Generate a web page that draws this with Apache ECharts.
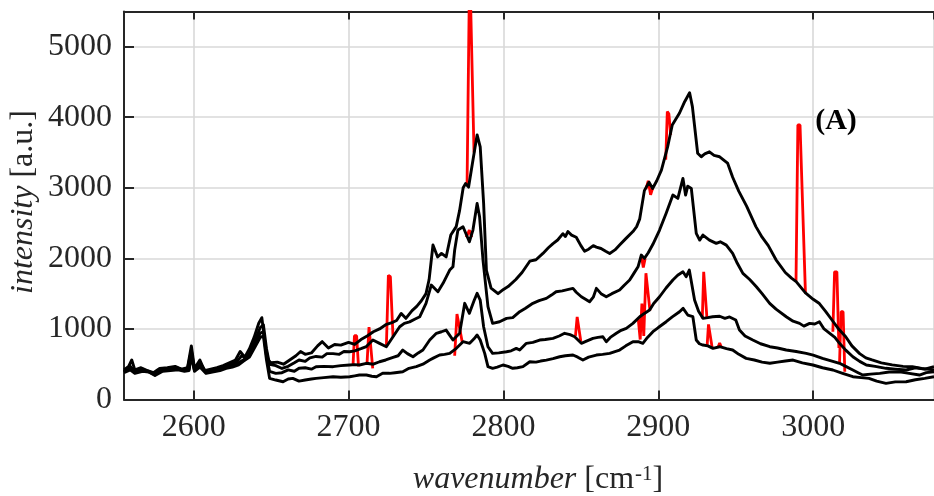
<!DOCTYPE html>
<html>
<head>
<meta charset="utf-8">
<script src="https://cdn.jsdelivr.net/npm/echarts@6/dist/echarts.min.js"></script>
<style>
  html, body { margin: 0; padding: 0; background: #fff; }
  #chart { width: 934px; height: 496px; }
</style>
</head>
<body>
<div id="chart"></div>
<script>
// wavenumber range shown and intensity range
const xRange = [2555, 3078];
const yRange = [0, 5500];

// despiked spectra (black), [wavenumber, intensity]
const curve1 = [
  [2555, 420], [2558, 470], [2560, 560], [2562, 420], [2566, 450], [2570, 410], [2574, 380], [2578, 440],
  [2583, 450], [2588, 470], [2592, 430], [2596, 450], [2598.5, 760], [2600.5, 440], [2604, 560], [2607, 410],
  [2611, 430], [2615, 450], [2619, 480], [2623, 520], [2627, 560], [2630, 680], [2633, 600], [2636, 720],
  [2639, 880], [2642, 1080], [2644, 1160], [2646, 800], [2648, 560], [2650, 520], [2654, 530], [2658, 500],
  [2662, 560], [2666, 620], [2669, 680], [2672, 640], [2676, 660], [2680, 760], [2683, 820], [2687, 730],
  [2691, 780], [2695, 770], [2700, 810], [2704, 780], [2708, 850], [2712, 900], [2716, 960], [2720, 1000],
  [2724, 1060], [2728, 1090], [2731, 1120], [2734, 1220], [2737, 1150], [2741, 1260], [2744, 1320], [2747, 1400],
  [2750, 1500], [2752, 1700], [2754.5, 2190], [2757.5, 2020], [2760, 2070], [2763, 2020], [2766, 2330], [2769.5, 2450],
  [2771.7, 2680], [2774, 3000], [2775.5, 3060], [2777.5, 3010], [2780.3, 3390], [2783, 3750], [2785, 3580], [2787.2, 2780],
  [2789, 1830], [2792, 1580], [2796.5, 1500], [2800, 1560], [2803, 1600], [2808, 1700], [2812, 1800], [2817, 1960],
  [2821, 1980], [2825.5, 2070], [2829, 2150], [2832, 2210], [2835, 2260], [2838.4, 2350], [2840, 2310], [2841.6, 2380],
  [2844, 2330], [2847, 2300], [2850, 2180], [2852.4, 2100], [2855, 2130], [2858, 2180], [2860, 2160], [2863, 2140],
  [2866, 2100], [2868.6, 2070], [2872, 2120], [2875, 2190], [2879, 2280], [2883.6, 2380], [2886, 2450], [2888, 2560],
  [2891, 2960], [2894, 3080], [2896.3, 2990], [2899, 3100], [2902, 3250], [2906, 3580], [2909, 3890], [2913.7, 4060],
  [2917, 4220], [2920.2, 4346], [2922, 4150], [2925.4, 3490], [2927.7, 3440], [2930, 3480], [2933, 3510], [2936, 3460],
  [2939.6, 3440], [2944.7, 3350], [2948, 3150], [2952, 2950], [2957, 2740], [2963, 2450], [2967, 2300], [2971, 2180],
  [2976, 1980], [2982, 1800], [2986, 1720], [2989, 1670], [2995, 1510], [3000, 1420], [3004, 1360], [3008, 1250],
  [3012, 1130], [3016, 1010], [3021, 890], [3025, 760], [3030, 650], [3034, 590], [3038, 560], [3044, 520],
  [3051, 490], [3058, 470], [3064, 465], [3070, 440], [3078, 420]
];
const curve2 = [
  [2555, 400], [2559, 470], [2562, 400], [2567, 430], [2571, 390], [2575, 350], [2579, 430], [2584, 440],
  [2589, 450], [2593, 420], [2596, 440], [2598.5, 700], [2600.5, 420], [2604, 520], [2608, 390], [2612, 420],
  [2616, 440], [2620, 470], [2624, 500], [2628, 540], [2631, 620], [2634, 580], [2637, 700], [2640, 860],
  [2643, 1020], [2645, 1060], [2647, 720], [2649, 500], [2653, 480], [2657, 440], [2661, 470], [2665, 520],
  [2668, 560], [2672, 540], [2675, 590], [2679, 610], [2683, 600], [2686, 650], [2690, 650], [2694, 640],
  [2697, 680], [2700.7, 677], [2704, 690], [2708, 720], [2711.5, 750], [2715.7, 843], [2720, 796], [2724.4, 748],
  [2728.7, 890], [2733, 1031], [2736, 1080], [2739.4, 1100], [2743, 1140], [2746, 1173], [2750, 1363], [2753.4, 1622],
  [2757.7, 1527], [2761, 1646], [2765.3, 1834], [2767.4, 1881], [2768.5, 2117], [2770.6, 2401], [2773.9, 2448], [2778, 2235],
  [2780.3, 2401], [2783, 2779], [2784.6, 2589], [2786.8, 1976], [2790, 1315], [2793, 1079], [2797.5, 1102], [2802, 1150],
  [2806, 1160], [2810.5, 1244], [2814, 1290], [2819, 1363], [2823, 1400], [2827.7, 1433], [2831, 1480], [2834, 1527],
  [2838, 1540], [2842, 1560], [2844.9, 1575], [2847, 1520], [2850.3, 1456], [2853, 1420], [2855.6, 1385], [2858, 1450],
  [2860, 1575], [2863, 1500], [2866.4, 1456], [2870, 1500], [2875, 1551], [2878, 1620], [2881.5, 1693], [2884, 1780],
  [2886.9, 1881], [2889, 2047], [2891, 2000], [2893.5, 2080], [2896.5, 2200], [2900.8, 2401], [2905, 2637], [2909.4, 2897],
  [2912.6, 2850], [2915.9, 3133], [2917.6, 2897], [2919, 3024], [2921.3, 2991], [2924.5, 2354], [2926.7, 2259], [2928.8, 2330],
  [2933, 2259], [2937.4, 2212], [2940, 2235], [2943.9, 2188], [2948, 2071], [2951, 1930], [2954.6, 1787], [2959, 1700],
  [2963.3, 1598], [2967, 1500], [2971.9, 1363], [2976, 1280], [2982.6, 1173], [2987, 1110], [2991.2, 1079], [2994, 1040],
  [2997.7, 1079], [3001, 1070], [3004, 1102], [3007, 1000], [3010.7, 938], [3014, 880], [3017, 796], [3021, 700],
  [3025.6, 606], [3030, 540], [3034.3, 489], [3040, 470], [3047, 442], [3053, 430], [3060, 418], [3066, 450],
  [3072, 430], [3078, 465]
];
const curve3 = [
  [2555, 390], [2559, 450], [2562, 380], [2567, 420], [2571, 400], [2575, 360], [2580, 420], [2585, 430],
  [2590, 440], [2594, 410], [2597, 430], [2598.5, 650], [2600.5, 410], [2604, 480], [2608, 380], [2612, 400],
  [2617, 430], [2621, 460], [2625, 480], [2629, 520], [2632, 560], [2636, 620], [2640, 800], [2643, 940],
  [2645, 960], [2647, 620], [2649, 400], [2653, 370], [2657, 380], [2661, 420], [2665, 400], [2668, 442],
  [2672, 450], [2676, 430], [2679, 465], [2684, 470], [2690, 465], [2695, 480], [2700.7, 489], [2704, 495],
  [2707, 489], [2711.5, 513], [2716, 500], [2720, 535], [2724, 560], [2728.7, 597], [2732, 620], [2735, 701],
  [2738, 650], [2741.6, 606], [2745, 660], [2748, 701], [2752.4, 843], [2756.7, 938], [2760, 960], [2763, 984],
  [2765, 920], [2767.4, 843], [2771.7, 938], [2775, 1363], [2778, 1221], [2781, 1400], [2783, 1504], [2785, 1409],
  [2787.2, 1031], [2790, 748], [2793, 654], [2797, 660], [2802, 677], [2805, 690], [2808.3, 725], [2810.5, 701],
  [2814.8, 796], [2819, 810], [2823.4, 843], [2827, 850], [2832, 867], [2836, 900], [2839.5, 938], [2843, 920],
  [2846, 890], [2850.3, 796], [2854, 830], [2857.8, 867], [2861, 880], [2864.2, 890], [2866.4, 819], [2869, 880],
  [2872.9, 938], [2876, 980], [2879.3, 1008], [2883.6, 1079], [2888, 1173], [2891, 1220], [2894.4, 1268], [2897, 1360],
  [2900.8, 1456], [2905, 1580], [2909.4, 1693], [2912.5, 1760], [2915.9, 1810], [2918, 1740], [2920, 1834], [2923.4, 1409],
  [2926, 1250], [2928.8, 1150], [2932, 1160], [2935, 1173], [2939.6, 1180], [2943, 1150], [2946, 1170], [2950, 1126],
  [2952.4, 984], [2956, 900], [2961, 843], [2966, 790], [2972, 748], [2977, 730], [2982.6, 701], [2989, 680],
  [2995.5, 654], [3000, 630], [3006, 583], [3011, 550], [3017, 513], [3021, 470], [3025.6, 418], [3029, 380],
  [3032, 347], [3037, 360], [3043, 371], [3049, 390], [3055.8, 394], [3062, 370], [3068.6, 347], [3073, 380],
  [3078, 394]
];
const curve4 = [
  [2555, 380], [2559, 420], [2562, 370], [2567, 400], [2571, 390], [2575, 340], [2580, 400], [2585, 410],
  [2590, 420], [2594, 400], [2597, 410], [2598.5, 620], [2600.5, 400], [2604, 460], [2608, 370], [2612, 390],
  [2617, 410], [2621, 440], [2625, 460], [2629, 490], [2632, 540], [2636, 600], [2640, 760], [2643, 880],
  [2645, 900], [2647, 560], [2649, 300], [2653, 276], [2657.7, 252], [2661, 290], [2664, 300], [2668, 260],
  [2672, 276], [2676, 290], [2679, 300], [2684, 310], [2690, 323], [2695, 315], [2700.7, 323], [2704, 335],
  [2707, 347], [2711.5, 347], [2715, 330], [2718, 323], [2722, 371], [2726.5, 371], [2730, 380], [2735, 394],
  [2739, 442], [2743.7, 465], [2748, 500], [2752.4, 559], [2755, 590], [2758.8, 630], [2762, 640], [2765.3, 654],
  [2769.6, 725], [2773.9, 819], [2778.2, 796], [2781, 860], [2783, 914], [2785, 843], [2787.9, 654], [2790, 465],
  [2793, 442], [2796, 460], [2799.7, 489], [2803, 470], [2806, 442], [2809, 450], [2812.6, 465], [2817, 535],
  [2821, 530], [2824, 545], [2827.7, 559], [2832, 580], [2836.3, 606], [2840, 620], [2844.9, 630], [2848, 600],
  [2851.3, 559], [2855, 600], [2860, 630], [2864, 640], [2868.6, 654], [2872, 680], [2875, 701], [2879, 760],
  [2883.6, 819], [2887, 820], [2890, 796], [2893, 880], [2896.5, 961], [2900, 1020], [2905.1, 1102], [2909, 1170],
  [2913.7, 1244], [2916, 1292], [2919, 1197], [2922.3, 1173], [2924.5, 843], [2926.5, 790], [2928.8, 772], [2932, 760],
  [2935.3, 725], [2939.6, 748], [2944, 720], [2948, 701], [2952, 640], [2956.7, 583], [2962, 560], [2967, 530],
  [2972, 513], [2977, 530], [2982, 545], [2987, 559], [2993, 520], [2999.8, 489], [3006, 450], [3012.7, 418],
  [3019, 370], [3025.6, 323], [3031, 310], [3036, 300], [3041, 260], [3047, 229], [3053, 250], [3060, 252],
  [3066, 280], [3072, 300], [3078, 323]
];

// raw spectra differ only at cosmic-ray spikes (red), one segment per spike
const spikes1 = [
  [[2776.5, 3030], [2778.2, 6200], [2779.4, 6200], [2781, 3500]],
  [[2892, 2980], [2893.5, 3100], [2895, 2900], [2896.3, 2990]],
  [[2904.8, 3400], [2905.8, 4080], [2906.8, 4050], [2908, 3750]],
  [[2988.9, 1680], [2990.1, 3890], [2991.5, 3890], [2995, 1500]]
];
const spikes2 = [
  [[2724.4, 748], [2725.7, 1760], [2727, 1740], [2728.7, 890]],
  [[2776, 2300], [2778, 2400], [2779.5, 2300]],
  [[2889, 2047], [2890.3, 1870], [2891.5, 2000]],
  [[3012.7, 960], [3013.8, 1810], [3015.3, 1810], [3016.6, 730]]
];
const spikes3 = [
  [[2702.9, 495], [2703.8, 904], [2705.2, 904], [2706.4, 470]],
  [[2711.9, 505], [2713.2, 1025], [2714.4, 1025], [2715.6, 442]],
  [[2768.5, 620], [2770, 1210], [2771.2, 1210], [2773.5, 800]],
  [[2846.5, 900], [2847.6, 1170], [2848.8, 1170], [2850, 820]],
  [[2887, 1150], [2888.3, 850], [2889.4, 1360], [2890.6, 900], [2892, 1790], [2893.2, 1790], [2894.6, 1260]],
  [[2928.4, 1150], [2929.3, 1810], [2930.3, 1810], [2931.4, 1150]],
  [[3017, 513], [3018, 1244], [3019.3, 1244], [3020.4, 394]]
];
const spikes4 = [
  [[2931.5, 760], [2932.4, 1065], [2933.5, 1065], [2934.8, 730]],
  [[2938.5, 735], [2939.6, 800], [2940.7, 740]]
];

const curves = [curve1, curve2, curve3, curve4];
const spikeSets = [spikes1, spikes2, spikes3, spikes4];

const axisColor = '#262626';
const gridColor = '#d9d9d9';
const serif = '"Liberation Serif", "DejaVu Serif", serif';

const chart = echarts.init(document.getElementById('chart'), null, { renderer: 'canvas' });

const series = [];
spikeSets.forEach(set => set.forEach(seg => {
  series.push({
    type: 'line', data: seg, showSymbol: false, clip: true, z: 2, silent: true,
    lineStyle: { color: '#ff0000', width: 2.8 }
  });
}));
curves.forEach(c => {
  series.push({
    type: 'line', data: c, showSymbol: false, clip: true, z: 3, silent: true,
    lineStyle: { color: '#000000', width: 2.9, join: 'round' }
  });
});

chart.setOption({
  animation: false,
  backgroundColor: '#ffffff',
  grid: { left: 124, top: 11.4, width: 810, height: 388.1, containLabel: false },
  xAxis: [{
    type: 'value', min: xRange[0], max: xRange[1], position: 'bottom',
    axisLine: { show: true, onZero: false, lineStyle: { color: axisColor, width: 2 } },
    axisTick: { show: true, inside: true, length: 9, lineStyle: { color: axisColor, width: 2 } },
    axisLabel: {
      color: axisColor, fontFamily: serif, fontSize: 32, margin: 12,
      showMinLabel: false, showMaxLabel: false,
      formatter: v => (v % 100 === 0 ? String(v) : '')
    },
    splitLine: { show: true, lineStyle: { color: gridColor, width: 1.6 } }
  }, {
    type: 'value', min: xRange[0], max: xRange[1], position: 'top',
    axisLine: { show: true, onZero: false, lineStyle: { color: axisColor, width: 2 } },
    axisTick: { show: true, inside: true, length: 8, lineStyle: { color: axisColor, width: 2 } },
    axisLabel: { show: false },
    splitLine: { show: false }
  }],
  yAxis: [{
    type: 'value', min: yRange[0], max: yRange[1], interval: 1000, position: 'left',
    axisLine: { show: true, onZero: false, lineStyle: { color: axisColor, width: 2 } },
    axisTick: { show: true, inside: true, length: 10, lineStyle: { color: axisColor, width: 2 } },
    axisLabel: {
      color: axisColor, fontFamily: serif, fontSize: 32, margin: 12,
      showMaxLabel: false,
      formatter: v => (v % 1000 === 0 ? String(v) : '')
    },
    splitLine: { show: true, lineStyle: { color: gridColor, width: 1.6 } }
  }],
  graphic: [{
    type: 'text', x: 538, y: 480, silent: true,
    style: {
      text: '{i|wavenumber} [cm{s|-1}]',
      fill: axisColor, fontFamily: serif, fontSize: 32,
      align: 'center', verticalAlign: 'middle',
      rich: {
        i: { fontStyle: 'italic', fontFamily: serif, fontSize: 32, fill: axisColor },
        s: { fontFamily: serif, fontSize: 21, verticalAlign: 'top', padding: [0, 0, 6, 1], fill: axisColor }
      }
    }
  }, {
    type: 'text', x: 24, y: 202, rotation: Math.PI / 2, silent: true,
    style: {
      text: '{i|intensity} [a.u.]',
      fill: axisColor, fontFamily: serif, fontSize: 32,
      align: 'center', verticalAlign: 'middle',
      rich: {
        i: { fontStyle: 'italic', fontFamily: serif, fontSize: 32, fill: axisColor }
      }
    }
  }, {
    type: 'text', x: 836, y: 121, silent: true, z: 10,
    style: {
      text: '(A)', fill: '#000000', fontFamily: serif, fontSize: 30, fontWeight: 'bold',
      align: 'center', verticalAlign: 'middle'
    }
  }],
  series: series
});
</script>
</body>
</html>
